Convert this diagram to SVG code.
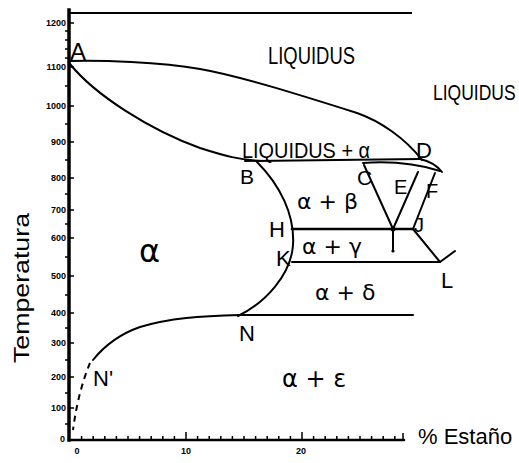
<svg xmlns="http://www.w3.org/2000/svg" width="519" height="463" viewBox="0 0 519 463">
<style>
.ln{fill:none;stroke:#000;stroke-width:2;stroke-linecap:round;stroke-linejoin:round}
.bd{fill:none;stroke:#000;stroke-width:2.6;stroke-linecap:round}
.ax{fill:none;stroke:#000;stroke-width:3.5;stroke-linecap:square}
.tk{fill:none;stroke:#000;stroke-width:1.5}
.dash{fill:none;stroke:#000;stroke-width:2;stroke-dasharray:6 5}
.lb{font-family:"Liberation Sans",Arial,sans-serif;fill:#000}
.yl{font-family:"Liberation Sans",Arial,sans-serif;font-weight:bold;font-size:9px;text-anchor:end;fill:#000}
.xl{font-family:"Liberation Sans",Arial,sans-serif;font-weight:bold;font-size:9px;text-anchor:middle;fill:#000}
.gr{font-family:"DejaVu Sans","Liberation Sans",sans-serif;fill:#000}
</style>
<rect width="519" height="463" fill="#fff"/>
<g id="axes">
<path class="tk" d="M68,13 L412,13" style="stroke-width:2"/>
<path class="ax" d="M69,10 L69,440"/>
<path class="bd" d="M69,440 L404,440"/>
<path class="tk" d="M69,23 h5 M69,67 h5 M69,106 h5 M69,142 h5 M69,178 h5 M69,210 h5 M69,238 h5 M69,276 h5 M69,313 h5 M69,343 h5 M69,377 h5 M69,408 h5"/>
<path class="tk" d="M65,31 h4 M65,40 h4 M65,49 h4 M65,58 h4 M65,86 h4 M65,124 h4 M65,160 h4 M65,194 h4 M65,224 h4 M65,257 h4 M65,295 h4 M65,328 h4 M65,360 h4 M65,393 h4 M65,424 h4"/>
<path class="tk" d="M81.6,440 v-4 M93.2,440 v-4 M104.8,440 v-4 M116.4,440 v-4 M128,440 v-4 M139.6,440 v-4 M151.2,440 v-4 M162.8,440 v-4 M174.4,440 v-4 M186,440 v-8 M197.6,440 v-4 M209.2,440 v-4 M220.8,440 v-4 M232.4,440 v-4 M244,440 v-4 M255.6,440 v-4 M267.2,440 v-4 M278.8,440 v-4 M290.4,440 v-4 M302,440 v-8 M313.6,440 v-4 M325.2,440 v-4 M336.8,440 v-4 M348.4,440 v-4 M360,440 v-4 M371.6,440 v-4 M383.2,440 v-4 M394.8,440 v-4 M403,440 v-7"/>
<text class="yl" x="66" y="26">1200</text>
<text class="yl" x="66" y="70">1100</text>
<text class="yl" x="66" y="109">1000</text>
<text class="yl" x="66" y="145">900</text>
<text class="yl" x="66" y="181">800</text>
<text class="yl" x="66" y="213">700</text>
<text class="yl" x="66" y="241">600</text>
<text class="yl" x="66" y="279">500</text>
<text class="yl" x="66" y="316">400</text>
<text class="yl" x="66" y="346">300</text>
<text class="yl" x="66" y="380">200</text>
<text class="yl" x="66" y="411">100</text>
<text class="yl" x="65" y="442">0</text>
<text class="xl" x="77" y="454">0</text>
<text class="xl" x="186" y="454">10</text>
<text class="xl" x="301" y="454">20</text>
<text class="lb" font-size="22" transform="translate(29,288) rotate(-90)" text-anchor="middle" textLength="150" lengthAdjust="spacingAndGlyphs">Temperatura</text>
<text class="lb" font-size="22" x="418" y="444">% Estaño</text>
</g>
<g id="curves">
<path class="ln" d="M70,61 C100,60 160,62 200,69 C240,76 300,95 357,113 C380,121 405,138 422,160"/>
<path class="ln" d="M420,159 Q434,162 442,172"/>
<path class="ln" d="M70,64 C95,95 150,130 200,148 C225,156 240,160 262,161"/>
<path class="ln" d="M245,161 L420,159"/>
<path class="ln" d="M363,163 Q405,160 440,171"/>
<path class="ln" d="M257,162 C280,185 295,215 293,245 C291,275 265,303 238,316"/>
<path class="bd" d="M292,229 L413,229"/>
<path class="ln" d="M292,262 L440,262"/>
<path class="ln" d="M413,229 L440,262 L455,251"/>
<path class="ln" d="M364,165 L393,229 L418,172"/>
<path class="ln" d="M435,173 L413,229"/>
<path class="ln" d="M393,229 L393,250"/>
<circle cx="393" cy="229" r="2.5"/>
<circle cx="393" cy="251" r="1.6"/>
<path class="ln" d="M240,315 L413,315"/>
<path class="ln" d="M93,360 C105,345 120,334 140,327 C170,318 200,316 240,315"/>
<path class="dash" d="M90,363 Q78,392 73,430"/>
</g>
<g id="labels">
<text class="lb" font-size="24" x="70" y="60">A</text>
<text class="lb" font-size="23" x="268" y="64" textLength="87" lengthAdjust="spacingAndGlyphs">LIQUIDUS</text>
<text class="lb" font-size="17.5" transform="translate(433,100) scale(1,1.25)">LIQUIDUS</text>
<text class="lb" font-size="22" x="242" y="158" textLength="128" lengthAdjust="spacingAndGlyphs">LIQUIDUS + α</text>
<text class="lb" font-size="21" x="240" y="184">B</text>
<text class="lb" font-size="21" x="357" y="185">C</text>
<text class="lb" font-size="22" x="416" y="158">D</text>
<text class="lb" font-size="20" x="394" y="194">E</text>
<text class="lb" font-size="20" x="426" y="198">F</text>
<text class="lb" font-size="22" x="269" y="237">H</text>
<text class="lb" font-size="20" x="414" y="232">J</text>
<text class="lb" font-size="22" x="276" y="266">K</text>
<text class="lb" font-size="22" x="441" y="288">L</text>
<text class="lb" font-size="22" x="239" y="341">N</text>
<text class="lb" font-size="22" x="93" y="386">N'</text>
<text class="gr" font-size="32" x="139" y="262">α</text>
<text class="gr" font-size="22" x="297" y="209">α + β</text>
<text class="gr" font-size="22" x="302" y="254">α + γ</text>
<text class="gr" font-size="22" x="315" y="300">α + δ</text>
<text class="gr" font-size="24" x="282" y="387">α  + ε</text>
</g>
</svg>
